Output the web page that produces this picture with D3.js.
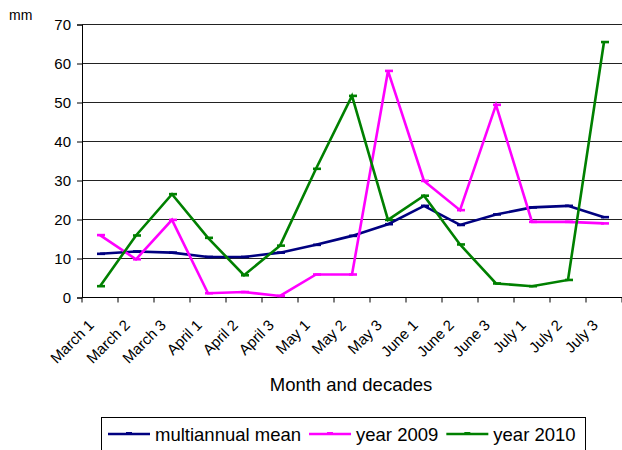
<!DOCTYPE html>
<html>
<head>
<meta charset="utf-8">
<script src="https://cdn.jsdelivr.net/npm/d3@7"></script>
<style>
  body { margin: 0; background: #fff; }
  svg { display: block; font-family: "Liberation Sans", Arial, sans-serif; }
</style>
</head>
<body>
<div id="chart"></div>
<script>
// decades of each month
var categories = ['March 1', 'March 2', 'March 3', 'April 1', 'April 2', 'April 3',
  'May 1', 'May 2', 'May 3', 'June 1', 'June 2', 'June 3', 'July 1', 'July 2', 'July 3'];

var meanValues = [11.2, 11.8, 11.5, 10.4, 10.4, 11.5, 13.5, 15.8, 18.8, 23.5, 18.6, 21.3, 23.1, 23.5, 20.6];
var values2009 = [16.0, 9.8, 19.9, 1.1, 1.4, 0.4, 5.9, 5.9, 58.1, 29.9, 22.4, 49.4, 19.4, 19.4, 19.0];
var values2010 = [2.9, 15.9, 26.5, 15.3, 5.7, 13.3, 33.0, 51.7, 19.9, 26.1, 13.6, 3.6, 2.9, 4.5, 65.5];

var yTicks = [0, 10, 20, 30, 40, 50, 60, 70];
var seriesNames = ['multiannual mean', 'year 2009', 'year 2010'];
var seriesColors = ['#000080', '#ff00ff', '#008000'];

var width = 622, height = 450;
var plotLeft = 82, plotRight = 622, plotTop = 24.5, plotBottom = 297.5;

var svg = d3.select('#chart').append('svg')
  .attr('width', width)
  .attr('height', height);

var x = d3.scaleBand().domain(categories).range([plotLeft, plotRight]);
var y = d3.scaleLinear().domain([0, 70]).range([plotBottom, plotTop]);

// gridlines
svg.append('g')
  .selectAll('line')
  .data(yTicks.filter(function(d) { return d > 0; }))
  .enter().append('line')
    .attr('x1', plotLeft)
    .attr('x2', plotRight)
    .attr('y1', function(d) { return y(d); })
    .attr('y2', function(d) { return y(d); })
    .attr('stroke', '#222')
    .attr('stroke-width', 1);

// y axis
var yAxis = svg.append('g')
  .attr('transform', 'translate(' + plotLeft + ',0)')
  .call(d3.axisLeft(y).tickValues(yTicks).tickSize(5).tickPadding(6));
yAxis.select('.domain').attr('stroke', '#000');
yAxis.selectAll('.tick line').attr('stroke', '#000');
yAxis.selectAll('text')
  .attr('font-family', '"Liberation Sans", Arial, sans-serif')
  .attr('font-size', '15px')
  .attr('fill', '#000');

// x axis with ticks on band boundaries
svg.append('line')
  .attr('x1', plotLeft).attr('x2', plotRight)
  .attr('y1', plotBottom).attr('y2', plotBottom)
  .attr('stroke', '#000');

var bounds = categories.map(function(c) { return x(c); }).concat([plotRight]);
svg.append('g')
  .selectAll('line')
  .data(bounds)
  .enter().append('line')
    .attr('x1', function(d) { return d; })
    .attr('x2', function(d) { return d; })
    .attr('y1', plotBottom)
    .attr('y2', plotBottom + 5)
    .attr('stroke', '#000');

svg.append('g')
  .selectAll('text')
  .data(categories)
  .enter().append('text')
    .attr('transform', function(d) {
      return 'translate(' + (x(d) + x.bandwidth() / 2 - 5) + ',326) rotate(-45)';
    })
    .attr('text-anchor', 'end')
    .attr('font-size', '15px')
    .attr('fill', '#000')
    .text(function(d) { return d; });

// unit label and axis title
svg.append('text')
  .attr('x', 9).attr('y', 20)
  .attr('font-size', '14px')
  .text('mm');

svg.append('text')
  .attr('x', 351).attr('y', 391)
  .attr('text-anchor', 'middle')
  .attr('font-size', '18.5px')
  .text('Month and decades');

// series lines
var series = [meanValues, values2009, values2010];
var line = d3.line()
  .x(function(d, i) { return x(categories[i]) + x.bandwidth() / 2; })
  .y(function(d) { return y(d); });

series.forEach(function(vals, s) {
  svg.append('path')
    .datum(vals)
    .attr('d', line)
    .attr('fill', 'none')
    .attr('stroke', seriesColors[s])
    .attr('stroke-width', 2.6)
    .attr('stroke-linejoin', 'miter');

  // dash markers
  svg.append('g')
    .selectAll('line')
    .data(vals)
    .enter().append('line')
      .attr('x1', function(d, i) { return x(categories[i]) + x.bandwidth() / 2 - 3; })
      .attr('x2', function(d, i) { return x(categories[i]) + x.bandwidth() / 2 + 5; })
      .attr('y1', function(d) { return y(d); })
      .attr('y2', function(d) { return y(d); })
      .attr('stroke', seriesColors[s])
      .attr('stroke-width', 2.6);
});

// legend
var legend = svg.append('g');
legend.append('rect')
  .attr('x', 101.5).attr('y', 417.5)
  .attr('width', 484).attr('height', 40)
  .attr('fill', '#fff')
  .attr('stroke', '#000');

var lx = 108;
seriesNames.forEach(function(name, s) {
  legend.append('line')
    .attr('x1', lx).attr('x2', lx + 42)
    .attr('y1', 434).attr('y2', 434)
    .attr('stroke', seriesColors[s])
    .attr('stroke-width', 2.6);
  legend.append('line')
    .attr('x1', lx + 18).attr('x2', lx + 24)
    .attr('y1', 433).attr('y2', 433)
    .attr('stroke', seriesColors[s])
    .attr('stroke-width', 2);
  var t = legend.append('text')
    .attr('x', lx + 47).attr('y', 441)
    .attr('font-size', '18.5px')
    .text(name);
  lx = lx + 47 + t.node().getComputedTextLength() + 8;
});
</script>
</body>
</html>
